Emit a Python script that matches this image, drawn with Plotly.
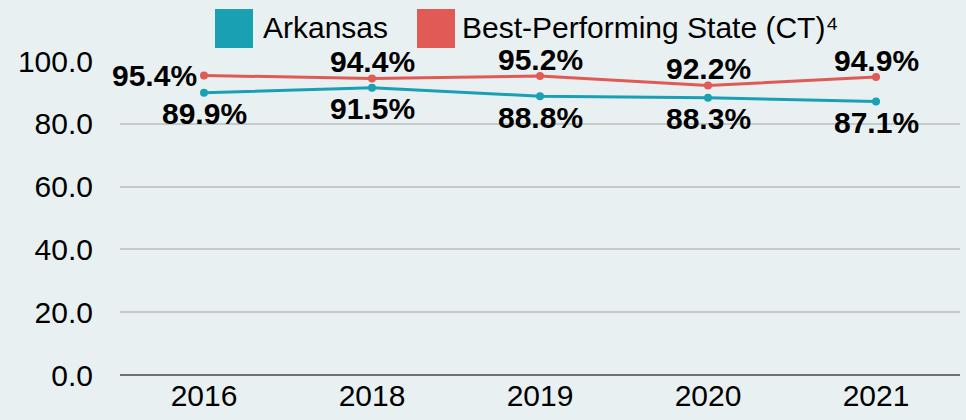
import plotly.graph_objects as go

years = ["2016", "2018", "2019", "2020", "2021"]
arkansas = [89.9, 91.5, 88.8, 88.3, 87.1]
best_state = [95.4, 94.4, 95.2, 92.2, 94.9]
series_names = ["Arkansas", "Best-Performing State (CT)⁴"]
y_ticks = [0, 20, 40, 60, 80, 100]

BLUE = "#1aa0b3"
RED = "#e05a56"
BG = "#e8f0f1"
FONT = "Liberation Sans, Arial, sans-serif"
FS = 30

W, H = 966, 420
ML, MR, MT, MB = 120, 6, 61, 45
PW, PH = W - ML - MR, H - MT - MB

def px_x(x):
    return (x - ML) / PW

def px_y(y):
    return (H - MB - y) / PH

fig = go.Figure()
for vals, color, nm in [(best_state, RED, "Best"), (arkansas, BLUE, "Arkansas")]:
    fig.add_trace(go.Scatter(
        x=years, y=vals, mode="lines+markers",
        line=dict(color=color, width=3), marker=dict(color=color, size=8),
        name=nm, showlegend=False, cliponaxis=False,
    ))

# data labels: annotations placed at category index / value via the axes
label_font = dict(family=FONT, size=FS, color="black", weight="bold")
for i, v in enumerate(best_state):
    if i == 0:
        fig.add_annotation(x=i, y=v, text=f"{v:.1f}%", showarrow=False,
                           xanchor="right", yanchor="middle", xshift=-5,
                           font=label_font)
    else:
        fig.add_annotation(x=i, y=v, text=f"{v:.1f}%", showarrow=False,
                           xanchor="center", yanchor="middle", yshift=17,
                           font=label_font)
for i, v in enumerate(arkansas):
    fig.add_annotation(x=i, y=v, text=f"{v:.1f}%", showarrow=False,
                       xanchor="center", yanchor="middle", yshift=-21,
                       font=label_font)

# manual legend with large square swatches
for (x0, x1), color, name, tx in [((215, 253), BLUE, series_names[0], 261),
                                  ((417, 455), RED, series_names[1], 460)]:
    fig.add_shape(type="rect", xref="paper", yref="paper",
                  x0=px_x(x0), x1=px_x(x1), y0=px_y(48), y1=px_y(9),
                  fillcolor=color, line=dict(width=0))
    fig.add_annotation(xref="paper", yref="paper", x=px_x(tx), y=px_y(27),
                       xanchor="left", yanchor="middle", text=name,
                       showarrow=False,
                       font=dict(family=FONT, size=FS, color="black"))

fig.update_layout(
    width=W, height=H,
    margin=dict(l=ML, r=MR, t=MT, b=MB),
    paper_bgcolor=BG, plot_bgcolor=BG,
    font=dict(family=FONT, size=FS, color="black"),
    showlegend=False,
)
fig.update_xaxes(type="category", range=[-0.5, len(years) - 0.5],
                 showgrid=False, showline=False, ticks="",
                 tickfont=dict(size=FS), ticklabelstandoff=0,
                 automargin=False)
fig.update_yaxes(range=[0, 100], tickvals=y_ticks,
                 ticktext=[f"{v:.1f}" for v in y_ticks],
                 showgrid=True, gridcolor="#c5c9ca", gridwidth=1.5,
                 zeroline=True, zerolinecolor="#707070", zerolinewidth=1.5,
                 showline=False, ticks="", tickfont=dict(size=FS),
                 ticklabelstandoff=26, automargin=False)

fig.write_html(
    "out.html",
    config={"displayModeBar": False},
    post_script="document.body.style.margin='0';"
                "document.body.style.background='#e8f0f1';",
)
